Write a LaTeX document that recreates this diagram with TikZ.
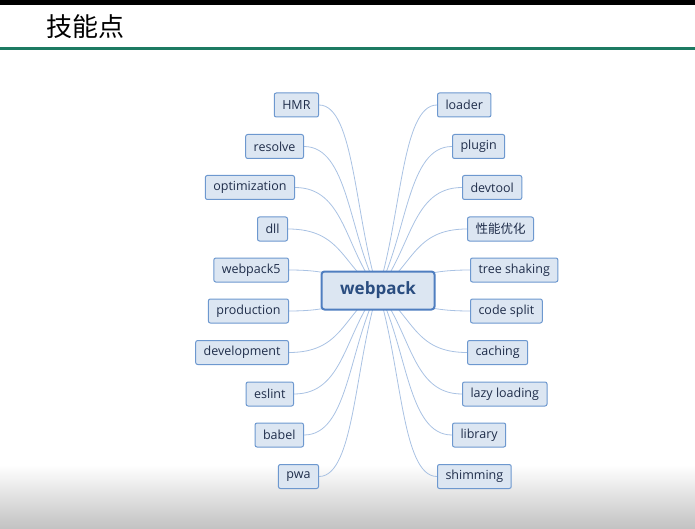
\documentclass[tikz,border=0pt]{standalone}
\usepackage{fontspec}
\setmainfont{Open Sans}
\newfontfamily\cjk{Noto Sans CJK SC}
\usepackage{xcolor}
\usetikzlibrary{positioning, calc, backgrounds}
\definecolor{edge}{HTML}{6D98CF}
\definecolor{leaf}{HTML}{DCE6F2}
\definecolor{textmain}{HTML}{1F2D4A}
\definecolor{hubedge}{HTML}{4F7EC0}
\definecolor{hubtext}{HTML}{2A4D80}
\definecolor{wire}{HTML}{A9C2E3}
\definecolor{rule}{HTML}{1D7A62}

\begin{document}
\begin{tikzpicture}[x=1pt, y=-1pt,
        s/.style={rectangle, draw=edge, fill=leaf, text=textmain, line width=1pt,
                  rounded corners=2pt, font=\fontsize{12.5}{14}\selectfont,
                  inner xsep=8pt, inner ysep=0pt, minimum height=24pt},
        hub/.style={s, draw=hubedge, line width=2pt, rounded corners=3pt, text=hubtext,
                    font=\fontsize{17}{20}\selectfont\bfseries,
                    minimum width=113pt, minimum height=38pt},
        branch/.style={to path={.. controls ($(\tikztostart)!0.4!(\tikztotarget)$)
                       and ($(\tikztotarget)!0.6!(\tikztostart |- \tikztotarget)$) .. (\tikztotarget)}},
        w/.style={wire, line width=0.8pt, branch}
      ]
        \useasboundingbox (0,0) rectangle (695,529);
        % header
        \fill[black] (0,0) rectangle (695,5.5);
        \node[anchor=west, inner sep=0pt, font=\cjk\fontsize{26}{30}\selectfont] (title) at (46,27) {技能点};
        \draw[rule, line width=2.5pt] (0,48.5) -- (695,48.5);

        \node[hub] (web) at (378,290.5) {webpack};

        % left branches
        \node[s, anchor=east] (hmr) at (319,105) {HMR};
        \node[s, anchor=east] (resolve) at (304,146.5) {resolve};
        \node[s, anchor=east] (optim) at (295,187.5) {optimization};
        \node[s, anchor=east] (dll) at (288,229) {dll};
        \node[s, anchor=east] (wp5) at (289,270) {webpack5};
        \node[s, anchor=east] (prod) at (289,311) {production};
        \node[s, anchor=east] (dev) at (289,352.5) {development};
        \node[s, anchor=east] (eslint) at (294,394) {eslint};
        \node[s, anchor=east] (babel) at (304,435) {babel};
        \node[s, anchor=east] (pwa) at (319,476.5) {pwa};

        % right branches
        \node[s, anchor=west] (loader) at (437,105) {loader};
        \node[s, anchor=west] (plugin) at (452,146.5) {plugin};
        \node[s, anchor=west] (devtool) at (462,187.5) {devtool};
        \node[s, anchor=west] (perf) at (467,229) {\cjk 性能优化};
        \node[s, anchor=west] (tree) at (470,270) {tree shaking};
        \node[s, anchor=west] (split) at (470,311) {code split};
        \node[s, anchor=west] (cache) at (467,352.5) {caching};
        \node[s, anchor=west] (lazy) at (462,394) {lazy loading};
        \node[s, anchor=west] (lib) at (452,435) {library};
        \node[s, anchor=west] (shim) at (437,476.5) {shimming};

        \begin{scope}[on background layer]
          \shade[top color=white, bottom color=black!24] (0,465) rectangle (695,529);
          \draw[w] (web.center) to (hmr.east);
          \draw[w] (web.center) to (resolve.east);
          \draw[w] (web.center) to (optim.east);
          \draw[w] (web.center) to (dll.east);
          \draw[w] (web.center) to (wp5.east);
          \draw[w] (web.center) to (prod.east);
          \draw[w] (web.center) to (dev.east);
          \draw[w] (web.center) to (eslint.east);
          \draw[w] (web.center) to (babel.east);
          \draw[w] (web.center) to (pwa.east);
          \draw[w] (web.center) to (loader.west);
          \draw[w] (web.center) to (plugin.west);
          \draw[w] (web.center) to (devtool.west);
          \draw[w] (web.center) to (perf.west);
          \draw[w] (web.center) to (tree.west);
          \draw[w] (web.center) to (split.west);
          \draw[w] (web.center) to (cache.west);
          \draw[w] (web.center) to (lazy.west);
          \draw[w] (web.center) to (lib.west);
          \draw[w] (web.center) to (shim.west);
        \end{scope}
      \end{tikzpicture}
\end{document}
